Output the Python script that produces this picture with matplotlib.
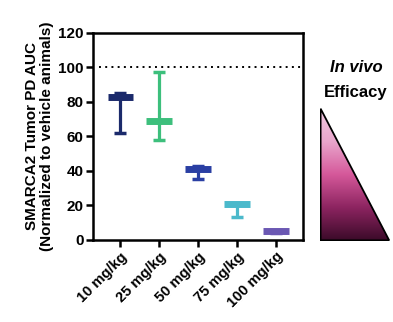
import numpy as np
import matplotlib
matplotlib.use('Agg')
import matplotlib.pyplot as plt
from matplotlib.colors import LinearSegmentedColormap
from matplotlib.patches import Polygon

plt.rcParams['font.family'] = ['Liberation Sans', 'DejaVu Sans']
plt.rcParams['font.weight'] = 'bold'

doses = ['10 mg/kg', '25 mg/kg', '50 mg/kg', '75 mg/kg', '100 mg/kg']
centre = np.array([83.0, 69.0, 41.0, 21.0, 5.0])
low = np.array([62.0, 58.0, 35.5, 13.5, 4.0])
high = np.array([85.0, 97.5, 43.0, 21.5, 6.0])
colors = ['#1b2a6b', '#3dbf7c', '#2a3fa3', '#4bb9cb', '#6b58b3']

fig = plt.figure(figsize=(3.93, 3.22), dpi=100)
ax = fig.add_axes([0.237, 0.255, 0.534, 0.643])

xs = np.arange(len(doses))
for i in range(len(doses)):
    ax.errorbar(xs[i], centre[i],
                yerr=[[centre[i] - low[i]], [high[i] - centre[i]]],
                fmt='none', ecolor=colors[i], elinewidth=2.3,
                capsize=4.5, capthick=2.5)
    ax.plot([xs[i] - 0.33, xs[i] + 0.33], [centre[i], centre[i]],
            color=colors[i], lw=5, solid_capstyle='butt')

ax.axhline(100, color='black', ls=(0, (1, 2.2)), lw=1.4, xmin=0.03)

ax.set_xlim(-0.7, 4.7)
ax.set_ylim(0, 120)
ax.set_yticks([0, 20, 40, 60, 80, 100, 120])
ax.set_xticks(xs)
ax.set_xticklabels(doses, rotation=45, ha='right', rotation_mode='anchor',
                   fontsize=10.5, fontweight='bold')
for lab in ax.get_yticklabels():
    lab.set_fontsize(11)
    lab.set_fontweight('bold')
ax.tick_params(width=1.8, length=5, pad=2)
for s in ax.spines.values():
    s.set_linewidth(1.8)
ax.set_ylabel('SMARCA2 Tumor PD AUC\n(Normalized to vehicle animals)',
              fontsize=11, fontweight='bold', labelpad=3, linespacing=1.1)

fig.text(0.906, 0.789, 'In vivo', ha='center', va='center', fontsize=12,
         fontweight='bold', style='italic')
fig.text(0.906, 0.714, 'Efficacy', ha='center', va='center', fontsize=12,
         fontweight='bold')

# gradient triangle
tax = fig.add_axes([0.814, 0.2516, 0.178, 0.413])
tax.set_xlim(0, 1)
tax.set_ylim(0, 1)
tax.axis('off')
cmap = LinearSegmentedColormap.from_list(
    'eff', ['#3a0a28', '#8c2460', '#d5589a', '#e9a6cc', '#f1cbe2'])
grad = np.linspace(0, 1, 256).reshape(-1, 1)
im = tax.imshow(grad, extent=[0, 1, 0, 1], origin='lower', cmap=cmap,
                aspect='auto')
tri = Polygon([[0.01, 0.995], [0.01, 0.005], [0.99, 0.005]], closed=True,
              facecolor='none', edgecolor='black', lw=1.3)
tax.add_patch(tri)
im.set_clip_path(tri)

fig.savefig('out.png', dpi=100)
